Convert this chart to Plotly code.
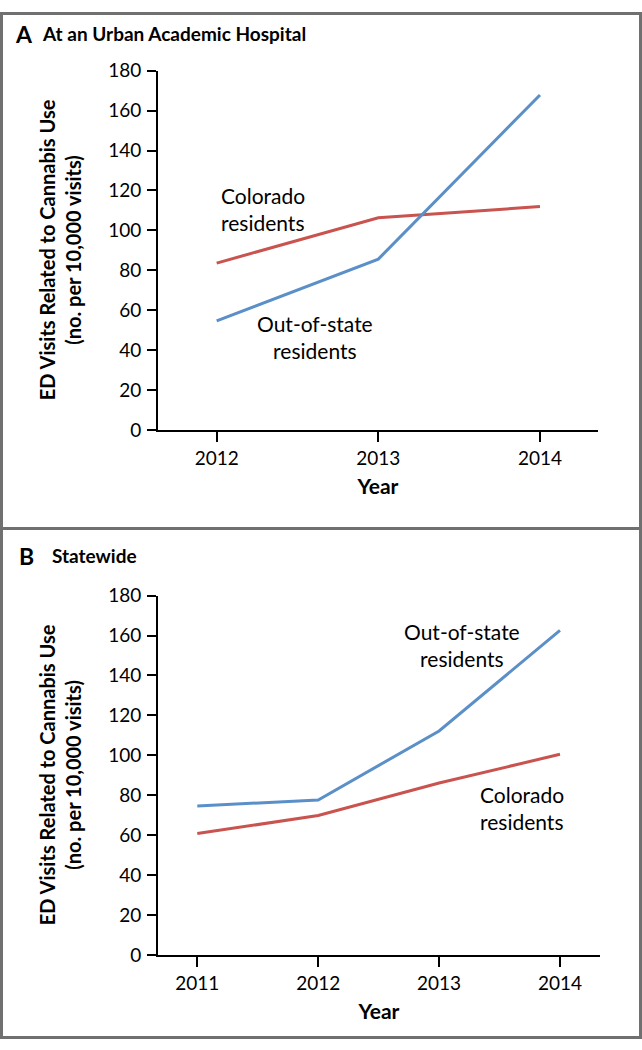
import plotly.graph_objects as go

# Panel A: urban academic hospital
years_a = [2012, 2013, 2014]
colorado_a = [83.6, 106.3, 111.9]
outstate_a = [54.6, 85.6, 167.8]

# Panel B: statewide
years_b = [2011, 2012, 2013, 2014]
colorado_b = [60.8, 69.8, 86.1, 100.5]
outstate_b = [74.6, 77.6, 112.2, 162.6]

y_ticks = [0, 20, 40, 60, 80, 100, 120, 140, 160, 180]

RED = "#C9534F"
BLUE = "#5B8FC8"
W, H = 642, 1050
FONT = "Lato"

def px_x(p):
    return p / W

def px_y(p):
    return 1 - p / H

fig = go.Figure()
fig.add_trace(go.Scatter(x=years_a, y=colorado_a, mode="lines", line=dict(color=RED, width=3),
                         xaxis="x", yaxis="y", showlegend=False))
fig.add_trace(go.Scatter(x=years_a, y=outstate_a, mode="lines", line=dict(color=BLUE, width=3),
                         xaxis="x", yaxis="y", showlegend=False))
fig.add_trace(go.Scatter(x=years_b, y=colorado_b, mode="lines", line=dict(color=RED, width=3),
                         xaxis="x2", yaxis="y2", showlegend=False))
fig.add_trace(go.Scatter(x=years_b, y=outstate_b, mode="lines", line=dict(color=BLUE, width=3),
                         xaxis="x2", yaxis="y2", showlegend=False))

tickfont = dict(family=FONT, size=19, color="black")
common_y = dict(range=[0, 180], tickvals=y_ticks, showline=True, linecolor="black", linewidth=2,
                ticks="outside", ticklen=9, tickwidth=2, tickcolor="black", showgrid=False,
                zeroline=False, tickfont=tickfont, ticklabelstandoff=2, fixedrange=True)
common_x = dict(showline=True, linecolor="black", linewidth=2, ticks="outside", ticklen=10,
                tickwidth=2, tickcolor="black", showgrid=False, zeroline=False, tickfont=tickfont,
                title=dict(text="<b>Year</b>", font=dict(family=FONT, size=21, color="black"), standoff=12),
                fixedrange=True)

fig.update_layout(
    width=W, height=H, margin=dict(l=0, r=0, t=0, b=0),
    paper_bgcolor="white", plot_bgcolor="white",
    xaxis=dict(common_x, domain=[px_x(158), px_x(598)], range=[2011.637, 2014.359],
               tickvals=years_a, ticktext=[str(v) for v in years_a], anchor="y"),
    yaxis=dict(common_y, domain=[px_y(427.3), px_y(60)], anchor="x"),
    xaxis2=dict(common_x, domain=[px_x(158), px_x(600)], range=[2010.675, 2014.331],
                tickvals=years_b, ticktext=[str(v) for v in years_b], anchor="y2"),
    yaxis2=dict(common_y, domain=[px_y(964), px_y(596.7)], anchor="x2"),
)

ann = []
lab_font = dict(family=FONT, size=21, color="black")
ytitle = "<b>ED Visits Related to Cannabis Use</b><br><b>(no. per 10,000 visits)</b>"
for cy in [243.6, 780.3]:
    ann.append(dict(text=ytitle, x=px_x(60), y=px_y(cy), xref="paper", yref="paper",
                    textangle=-90, showarrow=False, xanchor="center", yanchor="middle",
                    font=dict(family=FONT, size=20, color="black")))

ann.append(dict(text="<b>A</b>", x=px_x(13), y=px_y(22), xref="paper", yref="paper",
                showarrow=False, xanchor="left", yanchor="middle",
                font=dict(family=FONT, size=23, color="black")))
ann.append(dict(text="<b>At an Urban Academic Hospital</b>", x=px_x(40), y=px_y(22), xref="paper", yref="paper",
                showarrow=False, xanchor="left", yanchor="middle",
                font=dict(family=FONT, size=19, color="black")))
ann.append(dict(text="<b>B</b>", x=px_x(17), y=px_y(556), xref="paper", yref="paper",
                showarrow=False, xanchor="left", yanchor="middle",
                font=dict(family=FONT, size=23, color="black")))
ann.append(dict(text="<b>Statewide</b>", x=px_x(50), y=px_y(556), xref="paper", yref="paper",
                showarrow=False, xanchor="left", yanchor="middle",
                font=dict(family=FONT, size=19, color="black")))

# Series labels
ann.append(dict(text="Colorado<br>residents", x=px_x(263), y=px_y(201), xref="paper", yref="paper",
                showarrow=False, xanchor="center", yanchor="middle", align="left", font=lab_font))
ann.append(dict(text="Out-of-state<br>residents", x=px_x(315), y=px_y(332), xref="paper", yref="paper",
                showarrow=False, xanchor="center", yanchor="middle", align="center", font=lab_font))
ann.append(dict(text="Out-of-state<br>residents", x=px_x(462), y=px_y(647), xref="paper", yref="paper",
                showarrow=False, xanchor="center", yanchor="middle", align="center", font=lab_font))
ann.append(dict(text="Colorado<br>residents", x=px_x(522), y=px_y(814), xref="paper", yref="paper",
                showarrow=False, xanchor="center", yanchor="middle", align="left", font=lab_font))
fig.update_layout(annotations=ann)

# Frame
GRAY = "#707070"
shapes = [
    dict(type="rect", xref="paper", yref="paper", x0=px_x(1.5), x1=px_x(640.5), y0=px_y(1048.5), y1=px_y(1.5),
         line=dict(color=GRAY, width=3), fillcolor="rgba(0,0,0,0)", layer="above"),
    dict(type="line", xref="paper", yref="paper", x0=0, x1=1, y0=px_y(528), y1=px_y(528),
         line=dict(color=GRAY, width=3), layer="above"),
]
fig.update_layout(shapes=shapes)

post = ("var d=document.getElementById('{plot_id}');"
        "d.style.position='fixed';d.style.top='0px';d.style.left='0px';"
        "document.body.style.margin='0px';document.body.style.overflow='hidden';"
        "document.documentElement.style.overflow='hidden';")
fig.write_html("out.html", config=dict(displayModeBar=False), post_script=post)
